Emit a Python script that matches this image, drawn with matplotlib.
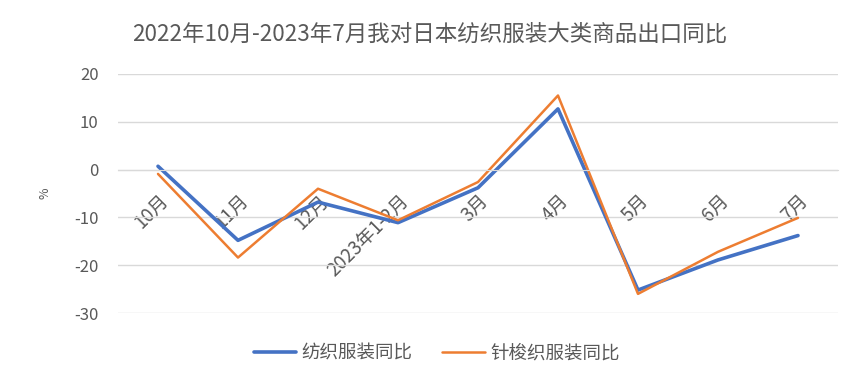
import matplotlib.pyplot as plt

plt.rcParams['font.family'] = ['Noto Sans CJK SC', 'DejaVu Sans']
plt.rcParams['axes.unicode_minus'] = False

months = ["10月", "11月", "12月", "2023年1-2月", "3月", "4月", "5月", "6月", "7月"]
textile = [0.7, -14.8, -6.8, -11.1, -3.8, 12.7, -25.2, -18.9, -13.8]
knit = [-0.9, -18.4, -4.0, -10.6, -2.6, 15.5, -26.0, -17.2, -10.1]

gray = '#595959'
fig = plt.figure(figsize=(8.65, 3.83), dpi=100)
ax = fig.add_axes([118 / 865, 1 - 313 / 383, 720 / 865, 239 / 383])

x = range(len(months))
ax.plot(x, textile, color='#4472C4', linewidth=2.6, label='纺织服装同比', solid_capstyle='round')
ax.plot(x, knit, color='#ED7D31', linewidth=1.8, label='针梭织服装同比', solid_capstyle='round')

ax.set_xlim(-0.5, len(months) - 0.5)
ax.set_ylim(-30, 20)
ax.set_yticks([-30, -20, -10, 0, 10, 20])
ax.yaxis.grid(True, color='#D9D9D9', linewidth=1)
ax.set_axisbelow(True)
for s in ['top', 'right', 'left']:
    ax.spines[s].set_visible(False)
ax.spines['bottom'].set_position(('data', 0))
ax.spines['bottom'].set_color('#D9D9D9')
ax.tick_params(axis='y', length=0, labelsize=12, labelcolor=gray, pad=14)
ax.tick_params(axis='x', length=0, labelsize=13.5, labelcolor=gray, pad=15)
ax.set_xticks(list(x))
ax.set_xticklabels(months, rotation=45, ha='right', rotation_mode='anchor')
ax.set_ylabel('%', fontsize=9, color=gray, labelpad=16)

fig.suptitle('2022年10月-2023年7月我对日本纺织服装大类商品出口同比', fontsize=16.2, color=gray, x=0.497, y=0.94)
fig.legend(loc='lower center', ncol=2, frameon=False, fontsize=13.3, labelcolor=gray,
           bbox_to_anchor=(0.505, 0.01), handlelength=2.3, handletextpad=0.3, columnspacing=1.6)
fig.savefig('out.png', dpi=100)
